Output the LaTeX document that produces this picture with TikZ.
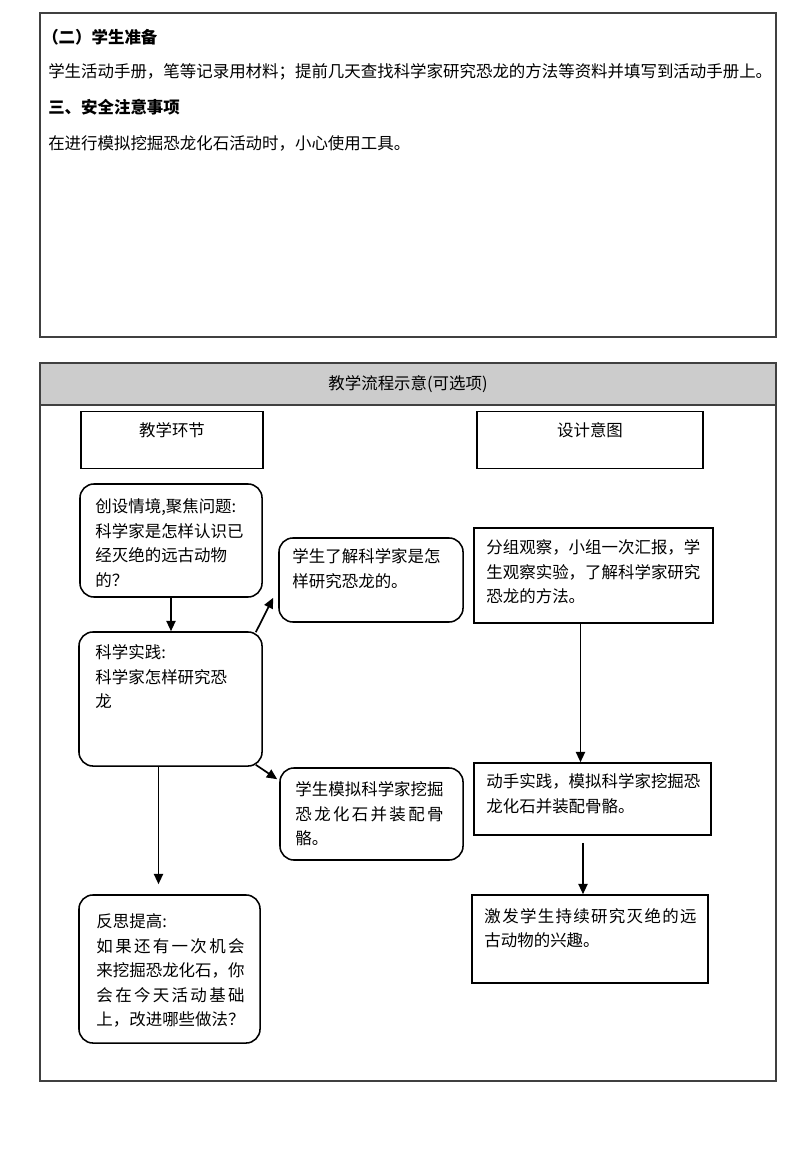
\documentclass[tikz,border=0pt]{standalone}
\usepackage{fontspec}
\setmainfont{Noto Sans CJK SC}
\usetikzlibrary{arrows.meta, positioning, calc}

% stretch one line of a box over a given width
\newcommand{\spreadline}[2]{\makebox[#1][s]{\spaceskip=0pt plus 1fil\relax #2}}

\begin{document}
\begin{tikzpicture}[
    x=0.025cm, y=-0.025cm,
    >={Triangle[length=2.6mm, width=2.3mm]},
    % Define the styles of the form
    frame/.style={rectangle, draw=black!75, line width=0.9pt, minimum width=18.4cm},
    head/.style={rectangle, draw=black!75, fill=black!20, line width=0.9pt, minimum width=18.4cm, minimum height=1.05cm},
    title_box/.style={rectangle, draw, line width=1.1pt, minimum height=1.425cm},
    step_box/.style={rectangle, draw, line width=1.1pt, rounded corners=0.35cm},
    aim_box/.style={rectangle, draw, line width=1.1pt},
    txt/.style={anchor=north west, align=left, inner sep=0pt, font=\fontsize{11.7}{17.4}\selectfont},
    lbl/.style={inner sep=0pt, font=\fontsize{11.7}{14}\selectfont},
    bold_lbl/.style={inner sep=0pt, anchor=west, font=\fontsize{11.7}{14}\selectfont\bfseries},
    link/.style={->, line width=1.2pt}
]
    \useasboundingbox (0,0) rectangle (800,1155);

    % --- Upper frame: preparation and safety ---
    \node[frame, minimum height=8.1cm] (prep_frame) at (408,175) {};
    \node[bold_lbl] (prep_t) at (42,37) {（二）学生准备};
    \node[lbl, anchor=west] (prep_x) at (48,72) {学生活动手册，笔等记录用材料；提前几天查找科学家研究恐龙的方法等资料并填写到活动手册上。};
    \node[bold_lbl] (safe_t) at (48,107) {三、安全注意事项};
    \node[lbl, anchor=west] (safe_x) at (48,143) {在进行模拟挖掘恐龙化石活动时，小心使用工具。};

    % --- Lower frame: teaching flow ---
    \node[frame, minimum height=17.95cm] (flow_frame) at (408,722) {};
    \node[head] (flow_head) at (408,384) {};
    \node[lbl] at (flow_head) {教学流程示意(可选项)};

    % --- Column heads ---
    \node[title_box, minimum width=4.55cm] (step_head) at (172,440) {};
    \node[lbl] at ($(step_head.north)+(0,19)$) {教学环节};
    \node[title_box, minimum width=5.65cm] (aim_head) at (590,440) {};
    \node[lbl] at ($(aim_head.north)+(0,19)$) {设计意图};

    % --- Left column: teaching steps ---
    \node[step_box, minimum width=4.55cm, minimum height=2.825cm] (intro) at (171,540.5) {};
    \node[txt] at ($(intro.north west)+(16,15.5)$) {创设情境,聚焦问题:\\科学家是怎样认识已\\经灭绝的远古动物\\的？};

    \node[step_box, minimum width=4.6cm, minimum height=2.1cm] (learn) at (371,580) {};
    \node[txt] at ($(learn.north west)+(14,11.5)$) {学生了解科学家是怎\\样研究恐龙的。};

    \node[step_box, minimum width=4.575cm, minimum height=3.35cm] (practice) at (170.5,699) {};
    \node[txt] at ($(practice.north west)+(17,13.5)$) {科学实践:\\科学家怎样研究恐\\龙};

    \node[step_box, minimum width=4.575cm, minimum height=2.3cm] (model) at (371.5,814) {};
    \node[txt] at ($(model.north west)+(16,14.5)$) {学生模拟科学家挖掘\\\spreadline{3.7cm}{恐 龙 化 石 并 装 配 骨}\\骼。};

    \node[step_box, minimum width=4.525cm, minimum height=3.7cm] (reflect) at (169.5,969) {};
    \node[txt] at ($(reflect.north west)+(18,19.5)$) {反思提高:\\\spreadline{3.7cm}{如 果 还 有 一 次 机 会}\\来挖掘恐龙化石，你\\\spreadline{3.7cm}{会 在 今 天 活 动 基 础}\\上，改进哪些做法？};

    % --- Right column: design aims ---
    \node[aim_box, minimum width=5.975cm, minimum height=2.375cm] (observe) at (593.5,575.5) {};
    \node[txt] at ($(observe.north west)+(13,12.5)$) {分组观察，小组一次汇报，学\\生观察实验，了解科学家研究\\恐龙的方法。};

    \node[aim_box, minimum width=5.925cm, minimum height=1.8cm] (handson) at (592.5,799) {};
    \node[txt] at ($(handson.north west)+(13,11.5)$) {动手实践，模拟科学家挖掘恐\\龙化石并装配骨骼。};

    \node[aim_box, minimum width=5.9cm, minimum height=2.2cm] (interest) at (590,939) {};
    \node[txt] at ($(interest.north west)+(13,13.5)$) {\spreadline{5.3cm}{激 发 学 生 持 续 研 究 灭 绝 的 远}\\古动物的兴趣。};

    % --- Connectors ---
    \draw[link] (intro.south) -- (intro.south |- practice.north);
    \draw[link] ($(practice.north east)+(-7,1)$) -- ($(learn.south west)+(-5,-25)$);
    \draw[link] ($(practice.south east)+(-7,-2)$) -- ($(model.north west)+(-2,12)$);
    \draw[link] ($(practice.south)+(-12,0)$) -- ($(reflect.north)+(-11,-10)$);
    \draw[link] ($(observe.south)+(-13,0)$) -- ($(handson.north)+(-12,0)$);
    \draw[link] ($(handson.south)+(-9.5,7)$) -- ($(interest.north)+(-7,0)$);

\end{tikzpicture}
\end{document}
